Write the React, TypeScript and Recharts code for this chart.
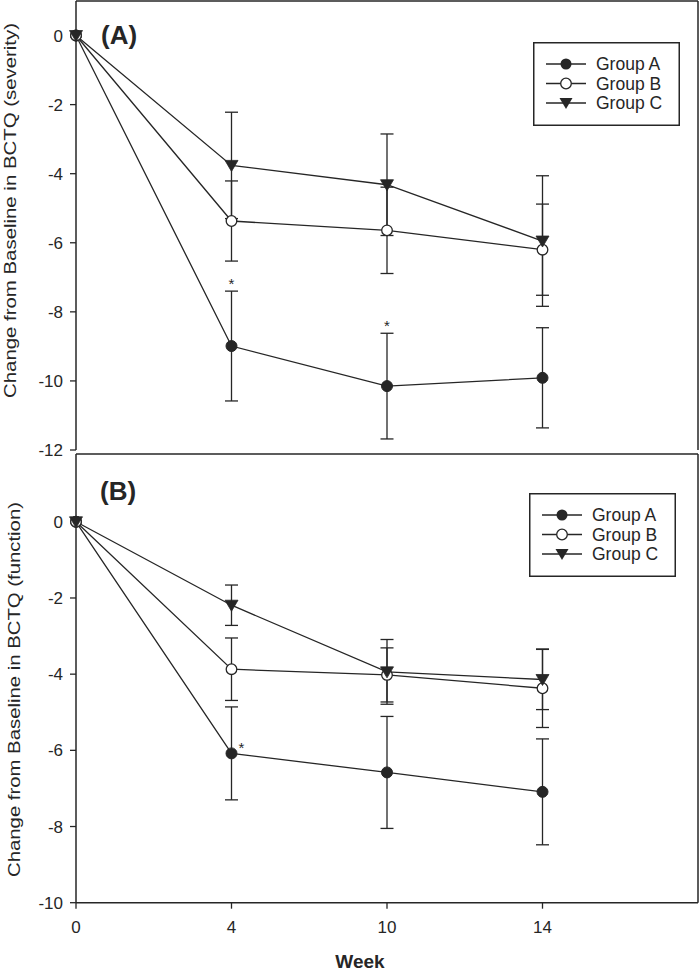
import React from 'react';
import { ComposedChart, Line, Scatter, XAxis, YAxis, ErrorBar, ReferenceLine, Legend } from 'recharts';

const weeks = ['0', '4', '10', '14'];
const groups = ['Group A', 'Group B', 'Group C'];

// Panel A: severity
const sevA = [0, -8.99, -10.15, -9.91];
const sevAErr = [0, 1.59, 1.53, 1.45];
const sevB = [0, -5.37, -5.64, -6.2];
const sevBErr = [0, 1.16, 1.25, 1.32];
const sevC = [0, -3.76, -4.32, -5.95];
const sevCErr = [0, 1.54, 1.47, 1.89];
const sevStars = [{ idx: 1, star: -7.11 }, { idx: 2, star: -8.31 }];

// Panel B: function
const fnA = [0, -6.08, -6.58, -7.09];
const fnAErr = [0, 1.22, 1.47, 1.39];
const fnB = [0, -3.87, -4.02, -4.37];
const fnBErr = [0, 0.82, 0.71, 1.03];
const fnC = [0, -2.19, -3.94, -4.14];
const fnCErr = [0, 0.53, 0.85, 0.79];
const fnStars = [{ idx: 1, star: -5.87 }];

const sevTicks = [-12, -10, -8, -6, -4, -2, 0];
const fnTicks = [-10, -8, -6, -4, -2, 0];

const INK = '#262626';
const FONT = '"Liberation Sans", Arial, Helvetica, sans-serif';

const buildRows = (a: number[], ae: number[], b: number[], be: number[], c: number[], ce: number[]) =>
  weeks.map((w, i) => ({ idx: i, week: w, a: a[i], ae: ae[i], b: b[i], be: be[i], c: c[i], ce: ce[i] }));

const sevData = buildRows(sevA, sevAErr, sevB, sevBErr, sevC, sevCErr);
const fnData = buildRows(fnA, fnAErr, fnB, fnBErr, fnC, fnCErr);

const DotFilled = (p: any) => (p.cx == null ? null : <circle cx={p.cx} cy={p.cy} r={5.5} fill={INK} stroke={INK} strokeWidth={1} />);
const DotOpen = (p: any) => (p.cx == null ? null : <circle cx={p.cx} cy={p.cy} r={5.3} fill="#fff" stroke={INK} strokeWidth={1.3} />);
const DotTri = (p: any) =>
  p.cx == null ? null : (
    <path d={`M${p.cx - 6.5},${p.cy - 5} L${p.cx + 6.5},${p.cy - 5} L${p.cx},${p.cy + 6} Z`} fill={INK} stroke={INK} strokeWidth={0.8} />
  );

const StarShape = (dx: number) => (p: any) =>
  p.cx == null ? null : (
    <text x={p.cx + dx} y={p.cy + 8} textAnchor="middle" fontSize={15} fontFamily={FONT} fill={INK}>*</text>
  );

const LegendBox = () => {
  const markers = [
    (x: number, y: number) => <circle cx={x} cy={y} r={5.5} fill={INK} />,
    (x: number, y: number) => <circle cx={x} cy={y} r={5.3} fill="#fff" stroke={INK} strokeWidth={1.3} />,
    (x: number, y: number) => <path d={`M${x - 6.5},${y - 5} L${x + 6.5},${y - 5} L${x},${y + 6} Z`} fill={INK} />,
  ];
  return (
    <svg width={147} height={84} style={{ display: 'block' }}>
      <rect x={0.75} y={0.75} width={145.5} height={82.5} fill="#fff" stroke={INK} strokeWidth={1.5} />
      {groups.map((g, i) => {
        const y = 22 + i * 19.5;
        return (
          <g key={g}>
            <line x1={13} x2={53} y1={y} y2={y} stroke={INK} strokeWidth={1.3} />
            {markers[i](33, y)}
            <text x={63} y={y + 6.3} fontSize={17.5} fontFamily={FONT} fill={INK}>{g}</text>
          </g>
        );
      })}
    </svg>
  );
};

const Panel = ({ data, ticks, domain, stars, starDx, showX, legendPos, height, margin }: any) => (
  <ComposedChart width={700} height={height} data={data} margin={margin}>
    <XAxis
      type="number"
      dataKey="idx"
      domain={[0, 4]}
      ticks={[0, 1, 2, 3]}
      interval={0}
      tickFormatter={(v: number) => weeks[v] ?? ''}
      hide={!showX}
      height={30}
      axisLine={{ stroke: INK, strokeWidth: 1.5 }}
      tickLine={{ stroke: INK, strokeWidth: 1.3 }}
      tickSize={6}
      tickMargin={12}
      tick={{ fill: INK, fontSize: 17, fontFamily: FONT }}
      allowDecimals={false}
    />
    <YAxis
      type="number"
      domain={domain}
      ticks={ticks}
      interval={0}
      width={76}
      axisLine={{ stroke: INK, strokeWidth: 1.5 }}
      tickLine={{ stroke: INK, strokeWidth: 1.3 }}
      tickSize={6}
      tickMargin={7}
      tick={{ fill: INK, fontSize: 17, fontFamily: FONT }}
      allowDataOverflow
    />
    <ReferenceLine y={domain[1]} stroke={INK} strokeWidth={1.5} ifOverflow="visible" />
    <ReferenceLine x={4} stroke={INK} strokeWidth={1.5} ifOverflow="visible" />
    <Legend
      layout="vertical"
      align="center"
      verticalAlign="middle"
      content={() => <LegendBox />}
      wrapperStyle={{ left: legendPos.left, top: legendPos.top, width: 147, height: 84 }}
    />
    <Line dataKey="a" name={groups[0]} stroke={INK} strokeWidth={1.3} dot={<DotFilled />} activeDot={false} isAnimationActive={false}>
      <ErrorBar dataKey="ae" width={6.5} stroke={INK} strokeWidth={1.3} direction="y" />
    </Line>
    <Line dataKey="b" name={groups[1]} stroke={INK} strokeWidth={1.3} dot={<DotOpen />} activeDot={false} isAnimationActive={false}>
      <ErrorBar dataKey="be" width={6.5} stroke={INK} strokeWidth={1.3} direction="y" />
    </Line>
    <Line dataKey="c" name={groups[2]} stroke={INK} strokeWidth={1.3} dot={<DotTri />} activeDot={false} isAnimationActive={false}>
      <ErrorBar dataKey="ce" width={6.5} stroke={INK} strokeWidth={1.3} direction="y" />
    </Line>
    <Scatter data={stars} dataKey="star" shape={StarShape(starDx)} isAnimationActive={false} legendType="none" />
  </ComposedChart>
);

export default function App() {
  return (
    <div style={{ position: 'absolute', left: 0, top: 0, width: 700, height: 971, background: '#fff' }}>
      <div style={{ position: 'absolute', left: 0, top: 0 }}>
        <Panel
          data={sevData}
          ticks={sevTicks}
          domain={[-12, 1]}
          stars={sevStars}
          starDx={0}
          showX={false}
          legendPos={{ left: 533, top: 42 }}
          height={460}
          margin={{ top: 1, right: 2, left: 0, bottom: 10 }}
        />
      </div>
      <div style={{ position: 'absolute', left: 0, top: 452 }}>
        <Panel
          data={fnData}
          ticks={fnTicks}
          domain={[-10, 1.78]}
          stars={fnStars}
          starDx={10}
          showX={true}
          legendPos={{ left: 529, top: 41 }}
          height={519}
          margin={{ top: 2, right: 2, left: 0, bottom: 38.3 }}
        />
      </div>
      <svg width={700} height={971} style={{ position: 'absolute', left: 0, top: 0, pointerEvents: 'none' }}>
        <text x={101} y={44} fontSize={26} fontWeight="bold" fontFamily={FONT} fill={INK}>(A)</text>
        <text x={100} y={500} fontSize={26} fontWeight="bold" fontFamily={FONT} fill={INK}>(B)</text>
        <text
          x={0}
          y={0}
          transform="translate(16,210.5) rotate(-90)"
          textAnchor="middle"
          fontSize={17}
          textLength={375}
          lengthAdjust="spacingAndGlyphs"
          fontFamily={FONT}
          fill={INK}
        >
          Change from Baseline in BCTQ (severity)
        </text>
        <text
          x={0}
          y={0}
          transform="translate(20,689.5) rotate(-90)"
          textAnchor="middle"
          fontSize={17}
          textLength={375}
          lengthAdjust="spacingAndGlyphs"
          fontFamily={FONT}
          fill={INK}
        >
          Change from Baseline in BCTQ (function)
        </text>
        <text x={360} y={968} textAnchor="middle" fontSize={19} fontWeight="bold" fontFamily={FONT} fill={INK}>Week</text>
      </svg>
    </div>
  );
}
